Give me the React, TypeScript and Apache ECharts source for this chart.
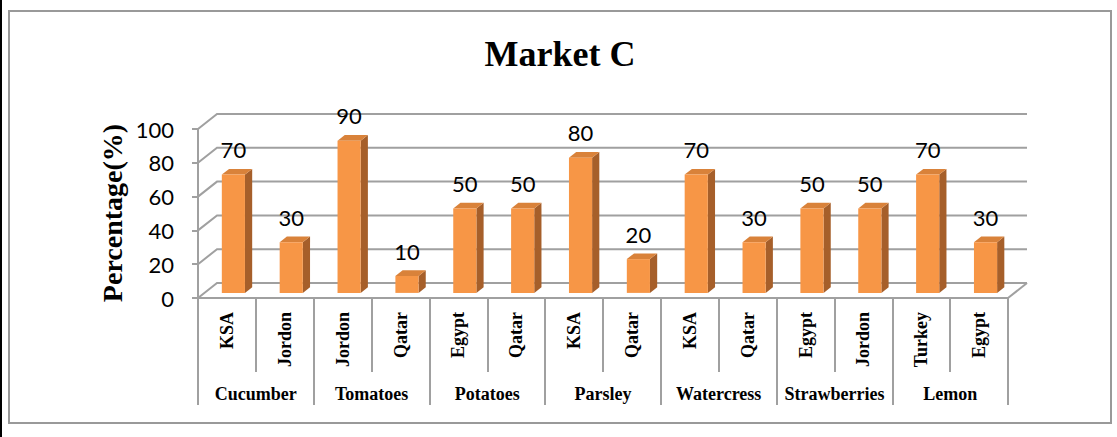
import React, { useEffect, useRef } from "react";
import * as echarts from "echarts";

// Source countries per bar, grouped by product
const countries = [
  "KSA", "Jordon",
  "Jordon", "Qatar",
  "Egypt", "Qatar",
  "KSA", "Qatar",
  "KSA", "Qatar",
  "Egypt", "Jordon",
  "Turkey", "Egypt",
];
const products = ["Cucumber", "Tomatoes", "Potatoes", "Parsley", "Watercress", "Strawberries", "Lemon"];
const percentages = [70, 30, 90, 10, 50, 50, 80, 20, 70, 30, 50, 50, 70, 30];
const yTicks = [0, 20, 40, 60, 80, 100];

// Depth of the pseudo-3D box (back wall offset from the front plane)
const DX = 19;
const DY = -15;

const GRID_COLOR = "#a0a0a0";
const FRONT = "#F79646";
const SIDE = "#A65F2A";
const TOP = "#D9823A";

export default function App() {
  const ref = useRef<HTMLDivElement>(null);

  useEffect(() => {
    if (!ref.current) return;
    const chart = echarts.init(ref.current, undefined, { renderer: "svg" });

    const option = {
      animation: false,
      backgroundColor: "#ffffff",
      grid: { left: 198, right: 109, top: 129, bottom: 139 },
      graphic: [
        { type: "rect", shape: { x: 0, y: 0, width: 2, height: 437 }, style: { fill: "#000" } },
        {
          type: "rect",
          shape: { x: 9, y: 11, width: 1102, height: 412 },
          style: { fill: "none", stroke: "#999", lineWidth: 2 },
        },
        {
          type: "text",
          x: 560,
          y: 54,
          style: {
            text: "Market C",
            fontFamily: "Liberation Serif",
            fontWeight: "bold",
            fontSize: 36,
            fill: "#000",
            align: "center",
            verticalAlign: "middle",
          },
        },
        {
          type: "text",
          x: 112,
          y: 213,
          rotation: Math.PI / 2,
          style: {
            text: "Percentage(%)",
            fontFamily: "Liberation Serif",
            fontWeight: "bold",
            fontSize: 28,
            fill: "#000",
            align: "center",
            verticalAlign: "middle",
          },
        },
      ],
      xAxis: [
        {
          type: "category",
          data: countries,
          position: "bottom",
          axisLine: { show: true, lineStyle: { color: GRID_COLOR, width: 2 } },
          axisTick: { show: true, interval: 0, length: 74, lineStyle: { color: GRID_COLOR, width: 2 } },
          axisLabel: {
            interval: 0,
            rotate: 90,
            margin: 14,
            fontFamily: "Liberation Serif",
            fontWeight: "bold",
            fontSize: 18,
            color: "#000",
          },
          splitLine: { show: false },
        },
        {
          type: "category",
          data: products,
          position: "bottom",
          axisLine: { show: false },
          axisTick: { show: true, interval: 0, length: 107, lineStyle: { color: GRID_COLOR, width: 2 } },
          axisLabel: {
            interval: 0,
            margin: 87,
            fontFamily: "Liberation Serif",
            fontWeight: "bold",
            fontSize: 18,
            color: "#000",
          },
          splitLine: { show: false },
        },
      ],
      yAxis: {
        type: "value",
        min: 0,
        max: 100,
        interval: 20,
        axisLine: { show: true, lineStyle: { color: GRID_COLOR, width: 2 } },
        axisTick: { show: true, length: 6, lineStyle: { color: GRID_COLOR, width: 2 } },
        axisLabel: { margin: 24, fontFamily: "Lato", fontSize: 22, color: "#000" },
        splitLine: { show: false },
      },
      series: [
        {
          // side wall and back wall gridlines, plus the floor's right edge
          type: "custom",
          xAxisIndex: 0,
          clip: false,
          z: 1,
          silent: true,
          data: yTicks.map((v) => [0, v]),
          encode: { x: 0, y: 1 },
          renderItem: (params: any, api: any) => {
            const v = api.value(1);
            const band = api.size([1, 0])[0];
            const p0 = api.coord([0, v]);
            const p1 = api.coord([countries.length - 1, v]);
            const x0 = p0[0] - band / 2;
            const x1 = p1[0] + band / 2;
            const y = p0[1];
            const children: any[] = [
              {
                type: "polyline",
                shape: { points: [[x0, y], [x0 + DX, y + DY], [x1 + DX, y + DY]] },
                style: { stroke: GRID_COLOR, lineWidth: 2, fill: "none" },
              },
            ];
            if (v === 0) {
              children.push({
                type: "line",
                shape: { x1: x1, y1: y, x2: x1 + DX, y2: y + DY },
                style: { stroke: GRID_COLOR, lineWidth: 2 },
              });
            }
            return { type: "group", children };
          },
        },
        {
          // 3D-looking columns with value labels
          type: "custom",
          xAxisIndex: 0,
          clip: false,
          z: 3,
          data: percentages.map((v, i) => [i, v]),
          encode: { x: 0, y: 1 },
          renderItem: (params: any, api: any) => {
            const i = api.value(0);
            const v = api.value(1);
            const band = api.size([1, 0])[0];
            const top = api.coord([i, v]);
            const base = api.coord([i, 0]);
            const w = band * 0.4;
            const fx = top[0] - w / 2 + DX * 0.34;
            const fyTop = top[1] + DY * 0.34;
            const fyBase = base[1] + DY * 0.34;
            const sx = DX * 0.38;
            const sy = DY * 0.38;
            return {
              type: "group",
              children: [
                {
                  type: "polygon",
                  shape: {
                    points: [[fx + w, fyTop], [fx + w + sx, fyTop + sy], [fx + w + sx, fyBase + sy], [fx + w, fyBase]],
                  },
                  style: { fill: SIDE },
                },
                {
                  type: "polygon",
                  shape: {
                    points: [[fx, fyTop], [fx + sx, fyTop + sy], [fx + w + sx, fyTop + sy], [fx + w, fyTop]],
                  },
                  style: { fill: TOP },
                },
                {
                  type: "rect",
                  shape: { x: fx, y: fyTop, width: w, height: fyBase - fyTop },
                  style: { fill: FRONT },
                },
                {
                  type: "text",
                  x: fx + w / 2,
                  y: fyTop - 25,
                  style: {
                    text: String(v),
                    fontFamily: "Lato",
                    fontSize: 22,
                    fill: "#000",
                    align: "center",
                    verticalAlign: "middle",
                  },
                },
              ],
            };
          },
        },
      ],
    };

    chart.setOption(option as any);
    return () => chart.dispose();
  }, []);

  return (
    <div
      ref={ref}
      style={{ position: "fixed", left: 0, top: 0, width: 1117, height: 437, background: "#fff" }}
    />
  );
}
